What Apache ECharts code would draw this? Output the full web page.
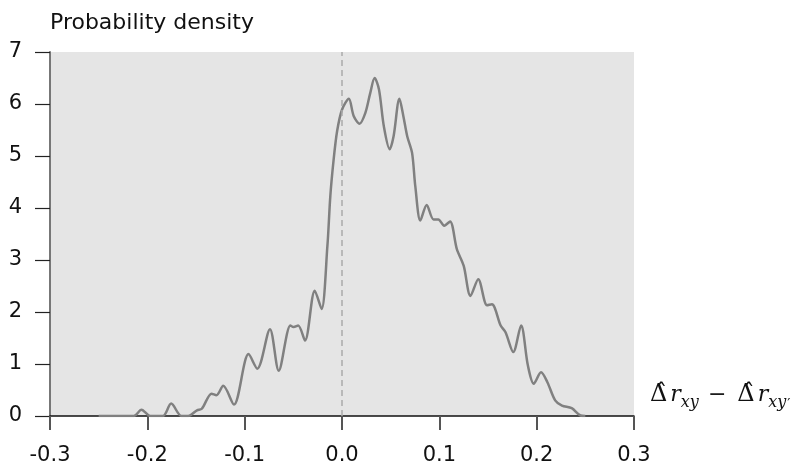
<!DOCTYPE html>
<html>
<head>
<meta charset="utf-8">
<script src="https://cdn.jsdelivr.net/npm/echarts@6/dist/echarts.min.js"></script>
<style>
  html, body { margin: 0; padding: 0; background: #fff; }
  #chart { width: 809px; height: 466px; }
</style>
</head>
<body>
<div id="chart"></div>
<script>
// density curve: x = delta r difference, y = density
var diffX = [-0.25, -0.214, -0.206, -0.197, -0.184, -0.1755, -0.165, -0.158, -0.149, -0.144,
    -0.134, -0.129, -0.122, -0.111, -0.096, -0.087, -0.074, -0.065, -0.053, -0.0497,
    -0.045, -0.038, -0.028, -0.021, -0.015, -0.012, -0.0086, -0.005, 0, 0.007,
    0.012, 0.018, 0.024, 0.029, 0.0335, 0.038, 0.043, 0.049, 0.053, 0.059,
    0.063, 0.067, 0.072, 0.0753, 0.0805, 0.087, 0.094, 0.099, 0.105, 0.111,
    0.118, 0.125, 0.132, 0.140, 0.149, 0.154, 0.163, 0.168, 0.176, 0.184,
    0.191, 0.197, 0.2045, 0.211, 0.219, 0.226, 0.236, 0.245, 0.25];
var density = [0, 0, 0.12, 0, 0, 0.24, 0, 0, 0.11, 0.14,
    0.43, 0.40, 0.58, 0.22, 1.19, 0.91, 1.67, 0.87, 1.74, 1.71,
    1.74, 1.45, 2.41, 2.06, 3.27, 4.23, 4.93, 5.48, 5.89, 6.10,
    5.77, 5.62, 5.83, 6.21, 6.50, 6.28, 5.57, 5.13, 5.38, 6.10,
    5.77, 5.38, 5.06, 4.42, 3.76, 4.06, 3.78, 3.78, 3.66, 3.74,
    3.21, 2.89, 2.31, 2.63, 2.13, 2.15, 1.74, 1.61, 1.23, 1.74,
    0.97, 0.62, 0.84, 0.65, 0.30, 0.20, 0.15, 0.01, 0];
var xTicks = [-0.3, -0.2, -0.1, 0.0, 0.1, 0.2, 0.3];
var yTicks = [0, 1, 2, 3, 4, 5, 6, 7];

var points = diffX.map(function (x, i) { return [x, density[i]]; });
var sansFont = 'DejaVu Sans';
var mathFont = 'DejaVu Serif';

var chart = echarts.init(document.getElementById('chart'));
chart.setOption({
    animation: false,
    title: {
        text: 'Probability density',
        left: 50,
        top: 12,
        padding: 0,
        textStyle: { fontFamily: sansFont, fontSize: 22, fontWeight: 'normal', color: '#111' }
    },
    grid: {
        left: 50, right: 175, top: 52, bottom: 49,
        show: true, backgroundColor: '#e5e5e5', borderWidth: 0
    },
    xAxis: {
        type: 'value',
        min: xTicks[0], max: xTicks[xTicks.length - 1], interval: 0.1,
        axisLine: { onZero: false, lineStyle: { color: '#111', width: 1.5 } },
        axisTick: { length: 14, lineStyle: { color: '#555', width: 2 } },
        splitLine: { show: false },
        axisLabel: {
            margin: 29, color: '#111', fontFamily: sansFont, fontSize: 21,
            formatter: function (v) { return v.toFixed(1); }
        },
        name: '{d|Δ̂}{r|r}{s|xy}{m|−}{d|Δ̂}{r|r}{s|xy}{p|′}',
        nameLocation: 'end',
        nameGap: 16,
        nameTextStyle: {
            align: 'left', verticalAlign: 'bottom', padding: [0, 0, 5, 0],
            rich: {
                d: { fontFamily: mathFont, fontSize: 24, color: '#111', lineHeight: 32 },
                r: { fontFamily: mathFont, fontStyle: 'italic', fontSize: 22, color: '#111', lineHeight: 32, padding: [0, 0, 0, 3] },
                s: { fontFamily: mathFont, fontStyle: 'italic', fontSize: 16, color: '#111', lineHeight: 16, verticalAlign: 'bottom' },
                p: { fontFamily: sansFont, fontSize: 14, color: '#111', lineHeight: 26, verticalAlign: 'bottom', padding: [0, 0, 0, 1] },
                m: { fontFamily: mathFont, fontSize: 22, color: '#111', lineHeight: 32, padding: [0, 11, 0, 9] }
            }
        }
    },
    yAxis: {
        type: 'value',
        min: yTicks[0], max: yTicks[yTicks.length - 1], interval: 1,
        axisLine: { show: true, onZero: false, lineStyle: { color: '#777', width: 2 } },
        axisTick: { show: true, length: 15, lineStyle: { color: '#222', width: 1.2 } },
        splitLine: { show: false },
        axisLabel: { margin: 28, color: '#111', fontFamily: sansFont, fontSize: 21 }
    },
    series: [{
        type: 'line',
        data: points,
        smooth: 0.3,
        showSymbol: false,
        lineStyle: { color: '#808080', width: 2.5 },
        markLine: {
            silent: true,
            symbol: 'none',
            label: { show: false },
            lineStyle: { color: '#aaa', type: [6, 4], width: 1.5 },
            data: [{ xAxis: 0 }]
        }
    }]
});
</script>
</body>
</html>
